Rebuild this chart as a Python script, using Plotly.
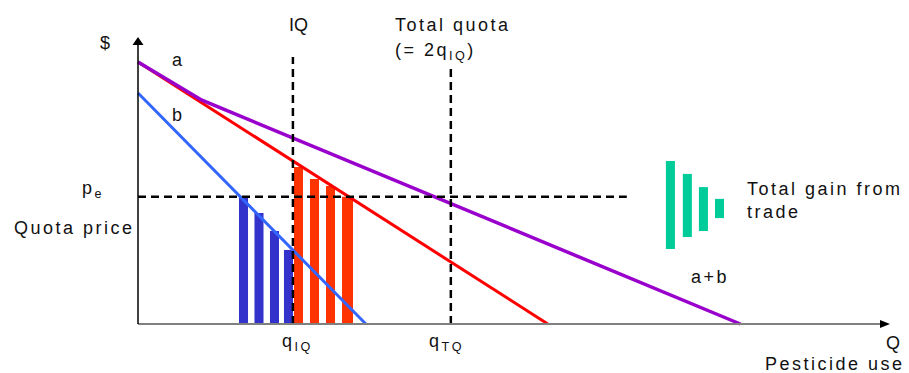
import plotly.graph_objects as go

# Marginal benefit curves (Q, P)
a_q = [0, 54.5]
a_p = [91.3, 0]
b_q = [0, 30.3]
b_p = [80.5, 0]
ab_q = [0, 8.5, 80.1]
ab_p = [91.3, 78.0, 0]

# Key levels
pe = 44.3
q_iq = 20.6
q_tq = 41.6
pe_line_end = 65.0
iq_top = 93.0
tq_top = 90.2

# Gain-from-trade bars
blue_x = [14.03, 16.09, 18.15, 20.01]
blue_h = [44.3, 38.7, 32.4, 25.8]
red_x = [21.34, 23.47, 25.60, 27.86]
red_h = [54.7, 50.5, 48.1, 44.3]
red_w = [1.2, 1.2, 1.2, 1.46]
green_x = [70.8, 73.05, 75.19, 77.33]
green_base = [26.1, 30.3, 32.4, 36.9]
green_top = [56.8, 52.3, 47.7, 43.6]
bar_w = 1.2

FONT = "Liberation Sans, Arial, sans-serif"
TXT = "#111111"


def sp(t, s=2.5):
    return f"<span style='letter-spacing:{s}px'>{t}</span>"


fig = go.Figure()

fig.add_trace(go.Bar(x=blue_x, y=blue_h, base=[0] * len(blue_x), width=[bar_w] * 4,
                     marker=dict(color="#3333CC", line=dict(width=0))))
fig.add_trace(go.Bar(x=red_x, y=red_h, base=[0] * len(red_x), width=red_w,
                     marker=dict(color="#FF3300", line=dict(width=0))))
fig.add_trace(go.Bar(x=green_x, y=[t - b for t, b in zip(green_top, green_base)],
                     base=green_base, width=[bar_w] * 4,
                     marker=dict(color="#00CC99", line=dict(width=0))))

fig.add_trace(go.Scatter(x=b_q, y=b_p, mode="lines", line=dict(color="#3366FF", width=3)))
fig.add_trace(go.Scatter(x=a_q, y=a_p, mode="lines", line=dict(color="#FF0000", width=3)))
fig.add_trace(go.Scatter(x=ab_q, y=ab_p, mode="lines", line=dict(color="#9900CC", width=3.5)))

dash = "8px,5px"
fig.add_trace(go.Scatter(x=[0, pe_line_end], y=[pe, pe], mode="lines",
                         line=dict(color="black", width=2.5, dash=dash)))
fig.add_trace(go.Scatter(x=[q_iq, q_iq], y=[0, iq_top], mode="lines",
                         line=dict(color="black", width=2.5, dash=dash)))
fig.add_trace(go.Scatter(x=[q_tq, q_tq], y=[0, tq_top], mode="lines",
                         line=dict(color="black", width=2.5, dash=dash)))

shapes = [
    dict(type="line", xref="x", yref="y", x0=0, y0=0, x1=98.8, y1=0,
         line=dict(color="#808080", width=2)),
    dict(type="line", xref="x", yref="y", x0=0, y0=0, x1=0, y1=97.5,
         line=dict(color="black", width=1.5)),
    dict(type="path", xref="x", yref="y", path="M -0.73,97.2 L 0,100 L 0.73,97.2 Z",
         fillcolor="black", line=dict(color="black", width=0)),
    dict(type="path", xref="x", yref="y", path="M 98.67,-1.39 L 100,0 L 98.67,1.39 Z",
         fillcolor="black", line=dict(color="black", width=0)),
]

def ann(x, y, text, xa="left", ya="middle", size=18):
    return dict(x=x, y=y, xref="x", yref="y", text=text, showarrow=False,
                xanchor=xa, yanchor=ya, align="left",
                font=dict(family=FONT, size=size, color=TXT))

annotations = [
    ann(-4.39, 97.9, "$", xa="center"),
    ann(5.19, 92.0, "a", xa="center"),
    ann(5.19, 72.8, "b", xa="center"),
    ann(21.3, 104.2, "IQ", xa="center"),
    ann(33.9, 104.2, sp("Total quota")),
    ann(33.9, 94.8, sp("(= 2q<sub>IQ</sub>)")),
    ann(-7.71, 47.0, sp("p<sub>e</sub>")),
    ann(-16.76, 33.4, sp("Quota price")),
    ann(18.9, -6.6, sp("q<sub>IQ</sub>")),
    ann(38.4, -6.6, sp("q<sub>TQ</sub>")),
    ann(100.4, -6.6, "Q", xa="center"),
    ann(83.1, -14.0, sp("Pesticide use")),
    ann(80.7, 42.9, sp("Total gain from<br>trade")),
    ann(73.3, 16.4, sp("a+b")),
]

fig.update_layout(
    width=909, height=373, autosize=False,
    margin=dict(l=0, r=0, t=0, b=0),
    paper_bgcolor="white", plot_bgcolor="white",
    showlegend=False, barmode="overlay",
    xaxis=dict(range=[-18.351, 102.527], visible=False, fixedrange=True),
    yaxis=dict(range=[-17.073, 112.892], visible=False, fixedrange=True),
    shapes=shapes, annotations=annotations,
)

fig.write_html("out.html",
               config={"displayModeBar": False, "staticPlot": True},
               post_script="document.body.style.margin='0';document.body.style.overflow='hidden';")
